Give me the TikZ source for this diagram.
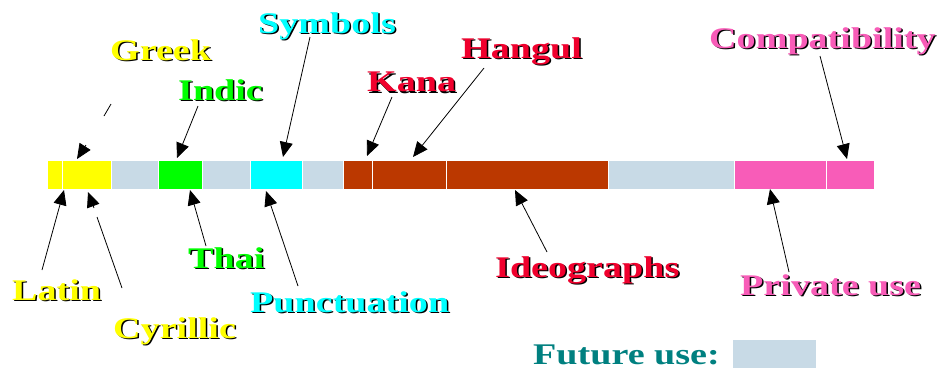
\documentclass[tikz,border=0pt]{standalone}
\usepackage{fontspec}
\setmainfont[FakeStretch=1.27]{Liberation Serif}
\usetikzlibrary{arrows.meta}

\definecolor{bkyellow}{RGB}{255,255,0}
\definecolor{bkgreen}{RGB}{0,255,0}
\definecolor{bkcyan}{RGB}{0,255,255}
\definecolor{bkbrown}{RGB}{187,56,0}
\definecolor{bkred}{RGB}{240,0,45}
\definecolor{bkpink}{RGB}{248,92,184}
\definecolor{bkfree}{RGB}{200,218,230}
\definecolor{bkteal}{RGB}{0,128,128}

\newcommand\shadowed[2]{\rlap{\kern1.5pt\raisebox{-1.5pt}{\color{black}#2}}\textcolor{#1}{#2}}

\tikzset{
  seg/.style={draw=white, line width=1pt, minimum height=29pt, inner sep=0pt, outer sep=0pt, anchor=west},
  lbl/.style={anchor=base west, inner sep=0pt, font=\fontsize{30}{36}\selectfont\bfseries},
  pointer/.style={-{Triangle[length=15pt,width=13pt]}, line width=0.8pt},
}

\begin{document}
\begin{tikzpicture}[x=1pt,y=-1pt]
\useasboundingbox (0,0) rectangle (941,368);

% the bar
\node[seg, fill=bkyellow, minimum width=15.5pt] (lat) at (47,174.5) {};
\node[seg, fill=bkyellow, minimum width=49pt] (grk) at (62.5,174.5) {};
\node[seg, fill=bkfree, minimum width=46.5pt] (free1) at (111.5,174.5) {};
\node[seg, fill=bkgreen, minimum width=44.5pt] (ind) at (158,174.5) {};
\node[seg, fill=bkfree, minimum width=48pt] (free2) at (202.5,174.5) {};
\node[seg, fill=bkcyan, minimum width=52pt] (sym) at (250.5,174.5) {};
\node[seg, fill=bkfree, minimum width=41pt] (free3) at (302.5,174.5) {};
\node[seg, fill=bkbrown, minimum width=29pt] (kan) at (343.5,174.5) {};
\node[seg, fill=bkbrown, minimum width=73.5pt] (hng) at (372.5,174.5) {};
\node[seg, fill=bkbrown, minimum width=162.5pt] (ideo) at (446,174.5) {};
\node[seg, fill=bkfree, minimum width=126pt] (free4) at (608.5,174.5) {};
\node[seg, fill=bkpink, minimum width=91.5pt] (priv) at (734.5,174.5) {};
\node[seg, fill=bkpink, minimum width=48pt] (comp) at (826,174.5) {};

% labels above
\node[lbl] (greek) at (110,60) {\shadowed{bkyellow}{Greek}};
\node[lbl] (indic) at (178,100) {\shadowed{bkgreen}{Indic}};
\node[lbl] (symbols) at (258,33) {\shadowed{bkcyan}{Symbols}};
\node[lbl] (kana) at (367,91.5) {\shadowed{bkred}{Kana}};
\node[lbl] (hangul) at (461,58) {\shadowed{bkred}{Hangul}};
\node[lbl] (compat) at (709,48) {\shadowed{bkpink}{Compatibility}};

% labels below
\node[lbl] (latin) at (12,300) {\shadowed{bkyellow}{Latin}};
\node[lbl] (cyrillic) at (113,338) {\shadowed{bkyellow}{Cyrillic}};
\node[lbl] (thai) at (188,268) {\shadowed{bkgreen}{Thai}};
\node[lbl] (punct) at (250,312) {\shadowed{bkcyan}{Punctuation}};
\node[lbl] (ideographs) at (495,277) {\shadowed{bkred}{Ideographs}};
\node[lbl] (private) at (740,295) {\shadowed{bkpink}{Private use}};

% legend
\node[lbl, text=bkteal] (future) at (533,364) {Future use:};
\node[seg, fill=bkfree, draw=none, minimum width=83pt, minimum height=28pt] (freekey) at (733,354) {};

% arrow ends
\coordinate (greek-a) at (111,104);
\coordinate (greek-b) at (104,116);
\coordinate (greek-c) at (86,145);
\coordinate (greek-t) at (77,159);
\coordinate (indic-a) at (198,106);
\coordinate (indic-t) at (177,158);
\coordinate (sym-a) at (310,37);
\coordinate (sym-t) at (283,157);
\coordinate (kana-a) at (392,97);
\coordinate (kana-t) at (367,156);
\coordinate (hangul-a) at (484,68);
\coordinate (hangul-t) at (413,157);
\coordinate (compat-a) at (820,56);
\coordinate (compat-t) at (847,159);
\coordinate (latin-a) at (42,270);
\coordinate (latin-t) at (64,190);
\coordinate (cyr-a) at (122,288);
\coordinate (cyr-b) at (97,217);
\coordinate (cyr-c) at (94,208);
\coordinate (cyr-t) at (88,192);
\coordinate (thai-a) at (206,246);
\coordinate (thai-t) at (190,190);
\coordinate (punct-a) at (298,286);
\coordinate (punct-t) at (266,191);
\coordinate (ideo-a) at (547,252);
\coordinate (ideo-t) at (515,190);
\coordinate (priv-a) at (789,272);
\coordinate (priv-t) at (770,189);

\path[draw,line width=0.8pt] (greek-a) -- (greek-b);
\path[draw,pointer] (greek-c) -- (greek-t);
\path[draw,pointer] (indic-a) -- (indic-t);
\path[draw,pointer] (sym-a) -- (sym-t);
\path[draw,pointer] (kana-a) -- (kana-t);
\path[draw,pointer] (hangul-a) -- (hangul-t);
\path[draw,pointer] (compat-a) -- (compat-t);
\path[draw,pointer] (latin-a) -- (latin-t);
\path[draw,line width=0.8pt] (cyr-a) -- (cyr-b);
\path[draw,pointer] (cyr-c) -- (cyr-t);
\path[draw,pointer] (thai-a) -- (thai-t);
\path[draw,pointer] (punct-a) -- (punct-t);
\path[draw,pointer] (ideo-a) -- (ideo-t);
\path[draw,pointer] (priv-a) -- (priv-t);
\end{tikzpicture}
\end{document}
